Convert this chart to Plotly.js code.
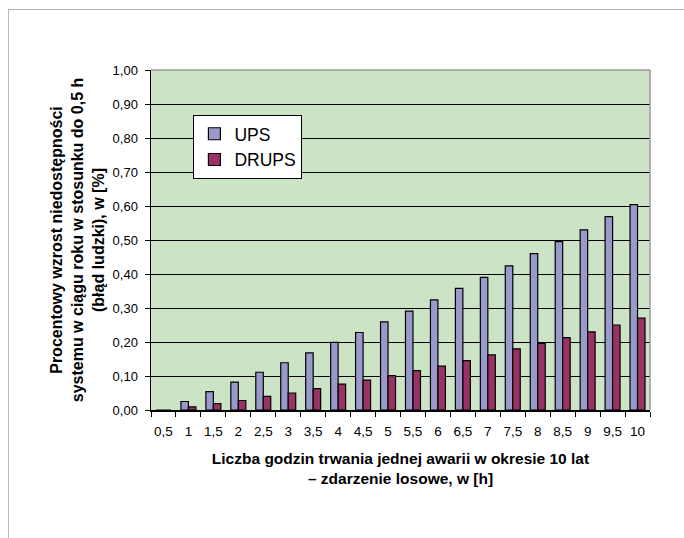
<!DOCTYPE html>
<html>
<head>
<meta charset="utf-8">
<script src="https://cdn.plot.ly/plotly-3.0.1.min.js"></script>
<style>
  html, body { margin: 0; padding: 0; background: #ffffff; overflow: hidden; }
  #wrap { position: relative; width: 684px; height: 538px; }
  #frame { position: absolute; left: 8px; top: 9px; width: 700px; height: 560px;
           border-left: 1px solid #b8b8b8; border-top: 1px solid #b8b8b8; pointer-events: none; }
  #chart { position: absolute; left: 0; top: 0; width: 684px; height: 538px; }
</style>
</head>
<body>
<div id="wrap">
  <div id="chart"></div>
  <div id="frame"></div>
</div>
<script>
// Duration of a single failure over 10 years [h]
const hours = ["0,5", "1", "1,5", "2", "2,5", "3", "3,5", "4", "4,5", "5",
               "5,5", "6", "6,5", "7", "7,5", "8", "8,5", "9", "9,5", "10"];

// Percentage increase in yearly unavailability relative to 0,5 h
const upsValues = [0, 0.025, 0.054, 0.082, 0.111, 0.139, 0.168, 0.199, 0.228, 0.259,
                   0.291, 0.324, 0.358, 0.390, 0.424, 0.460, 0.495, 0.530, 0.569, 0.604];
const drupsValues = [0, 0.009, 0.019, 0.028, 0.040, 0.050, 0.063, 0.076, 0.088, 0.101,
                     0.116, 0.129, 0.145, 0.162, 0.180, 0.196, 0.213, 0.230, 0.250, 0.270];

const seriesNames = ["UPS", "DRUPS"];

const font = "Liberation Sans, Arial, sans-serif";

const traces = [
  {
    type: "bar", x: hours, y: upsValues, name: seriesNames[0], legendgroup: "a",
    marker: { color: "#9999cc", line: { color: "#000000", width: 1.2 } }
  },
  {
    type: "bar", x: hours, y: drupsValues, name: seriesNames[1], legendgroup: "b",
    marker: { color: "#993366", line: { color: "#000000", width: 1.2 } }
  }
];

const layout = {
  width: 684, height: 538,
  margin: { l: 151, r: 34, t: 70, b: 128 },
  paper_bgcolor: "#ffffff",
  plot_bgcolor: "#cde3c5",
  separators: ", ",
  font: { family: font, color: "#000000", size: 13.5 },
  barmode: "group",
  bargap: 0.4,
  bargroupgap: 0,
  showlegend: true,
  legend: {
    x: 0.085, y: 0.868, xanchor: "left", yanchor: "top",
    bgcolor: "#ffffff", bordercolor: "#000000", borderwidth: 1,
    font: { family: font, size: 17.5, color: "#000000" },
    traceorder: "grouped", tracegroupgap: 0
  },
  xaxis: {
    type: "category",
    tickson: "boundaries",
    tickangle: 0,
    ticks: "outside", ticklen: 5, tickcolor: "#000000", tickwidth: 1,
    showline: true, linecolor: "#000000", linewidth: 1.5,
    showgrid: false,
    tickfont: { family: font, size: 13.5 },
    ticklabelstandoff: 8,
    title: {
      text: "<b>Liczba godzin trwania jednej awarii w okresie 10 lat<br>– zdarzenie losowe, w [h]</b>",
      font: { family: font, size: 15.5 },
      standoff: 15
    }
  },
  yaxis: {
    range: [0, 1], tick0: 0, dtick: 0.1, tickformat: ".2f",
    ticks: "outside", ticklen: 5, tickcolor: "#000000", tickwidth: 1,
    showline: true, linecolor: "#000000", linewidth: 1.5,
    showgrid: true, gridcolor: "#000000", gridwidth: 1,
    zeroline: false,
    tickfont: { family: font, size: 13 },
    ticklabelstandoff: 4,
    title: {
      text: "<b>Procentowy wzrost niedostępności<br>systemu w ciągu roku w stosunku do 0,5 h<br>(błąd ludzki), w [%]</b>",
      font: { family: font, size: 16 },
      standoff: 4
    }
  },
  shapes: [
    { type: "line", xref: "paper", yref: "paper", x0: 0, x1: 1, y0: 1, y1: 1,
      line: { color: "#9a9a9a", width: 1.5 }, layer: "above" },
    { type: "line", xref: "paper", yref: "paper", x0: 1, x1: 1, y0: 0, y1: 1,
      line: { color: "#9a9a9a", width: 1.5 }, layer: "above" }
  ]
};

Plotly.newPlot("chart", traces, layout, { staticPlot: true, displayModeBar: false });
</script>
</body>
</html>
